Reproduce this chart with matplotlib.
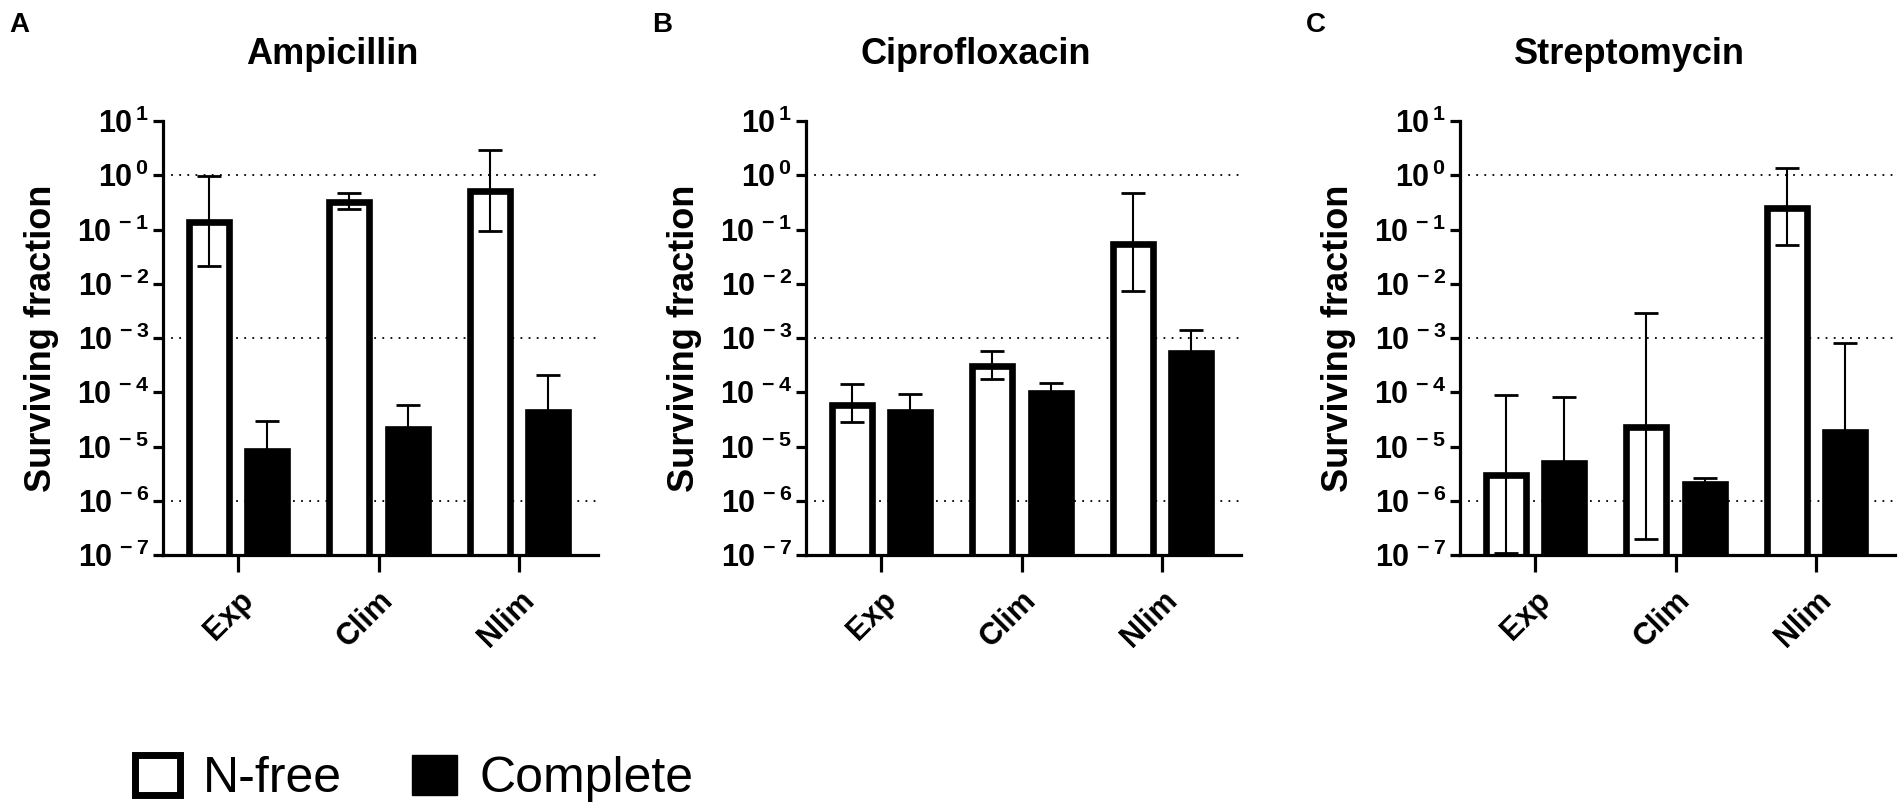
"""Surviving fraction after antibiotic treatment, three panels."""

import matplotlib

matplotlib.use("Agg")
import matplotlib.pyplot as plt
from matplotlib.patches import Patch
from matplotlib.ticker import FixedLocator, NullLocator, FixedFormatter
import numpy as np

plt.rcParams["font.family"] = ["Liberation Sans", "DejaVu Sans"]
plt.rcParams["mathtext.fontset"] = "custom"
plt.rcParams["mathtext.rm"] = "Liberation Sans"
plt.rcParams["mathtext.bf"] = "Liberation Sans:bold"

conditions = ["Exp", "Clim", "Nlim"]
antibiotics = ["Ampicillin", "Ciprofloxacin", "Streptomycin"]
panel_letters = ["A", "B", "C"]

# N-free medium: bar value, lower and upper error bar ends
amp_nfree = [0.135, 0.32, 0.51]
amp_nfree_lo = [0.021, 0.24, 0.095]
amp_nfree_hi = [0.95, 0.47, 2.9]
amp_complete = [8.1e-6, 2.1e-5, 4.4e-5]
amp_complete_hi = [2.9e-5, 5.7e-5, 2.1e-4]

cip_nfree = [5.9e-5, 3.1e-4, 0.054]
cip_nfree_lo = [2.8e-5, 1.76e-4, 0.0073]
cip_nfree_hi = [1.42e-4, 5.7e-4, 0.48]
cip_complete = [4.4e-5, 9.8e-5, 5.4e-4]
cip_complete_hi = [9.1e-5, 1.48e-4, 1.42e-3]

str_nfree = [3.0e-6, 2.3e-5, 0.25]
str_nfree_lo = [1.1e-7, 2.0e-7, 0.052]
str_nfree_hi = [9.0e-5, 2.9e-3, 1.36]
str_complete = [4.9e-6, 2.0e-6, 1.84e-5]
str_complete_hi = [8.2e-5, 2.6e-6, 8.2e-4]

decades = [-7, -6, -5, -4, -3, -2, -1, 0, 1]
grid_levels = [1.0, 1e-3, 1e-6]

panels = [
    (amp_nfree, amp_nfree_lo, amp_nfree_hi, amp_complete, amp_complete_hi),
    (cip_nfree, cip_nfree_lo, cip_nfree_hi, cip_complete, cip_complete_hi),
    (str_nfree, str_nfree_lo, str_nfree_hi, str_complete, str_complete_hi),
]

W, H = 1904, 808
fig = plt.figure(figsize=(W / 100, H / 100), dpi=100)

axes_left = [163, 806, 1460]
ax_w, ax_top, ax_bot = 435, 121, 555
floor = 1e-8
bw = 0.285
off = 0.207
lw_axis = 2.3

for i, (nf, nf_lo, nf_hi, cp, cp_hi) in enumerate(panels):
    L = axes_left[i]
    ax = fig.add_axes([L / W, 1 - ax_bot / H, ax_w / W, (ax_bot - ax_top) / H])
    x = np.arange(len(conditions))
    nf = np.array(nf)
    cp = np.array(cp)

    for g in grid_levels:
        ax.axhline(g, color="black", linewidth=1.3, linestyle=(0, (1, 3.5)), zorder=0)

    ax.bar(x - off, nf - floor, bottom=floor, width=bw, color="white",
           edgecolor="black", linewidth=4.8, zorder=2)
    ax.bar(x + off, cp - floor, bottom=floor, width=bw, color="black",
           edgecolor="black", linewidth=4.8, zorder=2)

    ax.errorbar(x - off, nf, yerr=[nf - np.array(nf_lo), np.array(nf_hi) - nf],
                fmt="none", ecolor="black", elinewidth=1.5, capsize=8.3,
                capthick=2.0, zorder=3)
    ax.errorbar(x + off, cp, yerr=[np.zeros_like(cp), np.array(cp_hi) - cp],
                fmt="none", ecolor="black", elinewidth=1.5, capsize=8.3,
                capthick=2.0, zorder=3)

    ax.set_yscale("log")
    ax.set_ylim(1e-7, 1e1)
    ax.set_xlim(-0.534, 2.562)
    ax.yaxis.set_major_locator(FixedLocator([10.0 ** d for d in decades]))
    ax.yaxis.set_minor_locator(NullLocator())
    ax.yaxis.set_major_formatter(
        FixedFormatter([rf"$\mathbf{{10^{{\,{d}}}}}$" for d in decades]))
    ax.set_xticks(x)
    ax.set_xticklabels(conditions, rotation=45, ha="right",
                       rotation_mode="anchor", fontsize=22, fontweight="bold")
    ax.tick_params(axis="y", labelsize=22, length=7, width=lw_axis, pad=3)
    ax.tick_params(axis="x", length=12, width=lw_axis, pad=10)

    for side in ("top", "right"):
        ax.spines[side].set_visible(False)
    for side in ("left", "bottom"):
        ax.spines[side].set_linewidth(lw_axis)

    fig.text((L + ax_w / 2 - 48) / W, 1 - 54 / H, antibiotics[i],
             ha="center", va="center", fontsize=26, fontweight="bold")
    fig.text((L - 154) / W, 1 - 25 / H, panel_letters[i],
             ha="left", va="center", fontsize=20, fontweight="bold")
    fig.text((L - 121) / W, 1 - 338 / H, "Surviving fraction", rotation=90,
             ha="center", va="center", fontsize=26, fontweight="bold")

handles = [
    Patch(facecolor="white", edgecolor="black", linewidth=5, label="N-free"),
    Patch(facecolor="black", edgecolor="black", label="Complete"),
]
fig.legend(handles=handles, loc="lower left", bbox_to_anchor=(135 / W, 6 / H),
           ncol=2, frameon=False, fontsize=36, handlelength=0.9,
           handleheight=0.85, handletextpad=0.45, columnspacing=1.4,
           borderpad=0, borderaxespad=0)

fig.savefig("out.png", dpi=100)
